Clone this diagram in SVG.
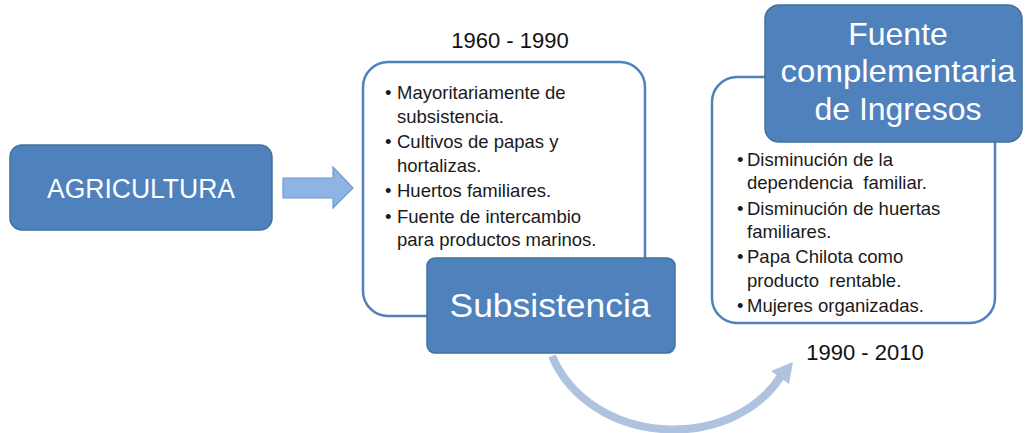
<svg xmlns="http://www.w3.org/2000/svg" width="1026" height="433" viewBox="0 0 1026 433">
<style>
.box{fill:#4F81BD;stroke:#41719C;stroke-width:1.5}
.frame{fill:#FFFFFF;stroke:#4F81BD;stroke-width:2.5}
.hdr{font-family:"Liberation Sans",Arial,sans-serif;fill:#FFFFFF;text-anchor:middle}
.yr{font-family:"Liberation Sans",Arial,sans-serif;font-size:22px;fill:#111111;text-anchor:middle}
.bl{font-family:"Liberation Sans",Arial,sans-serif;font-size:18.5px;fill:#1A1A1A;white-space:pre}
</style>
<rect width="1026" height="433" fill="#FFFFFF"/>
<g id="connectors">
<polygon points="283,178 333,178 333,167 353,188 333,208 333,198 283,198" fill="#8EB4E3" stroke="#6F9AD0" stroke-width="1.2"/>
<path d="M 552 356 C 590 445, 730 455, 781 376" fill="none" stroke="#AFC2DE" stroke-width="8"/>
<polygon points="793,362 771,371 789,384" fill="#AFC2DE"/>
</g>
<g id="agricultura">
<rect class="box" x="10" y="145" width="262" height="85" rx="12"/>
<text class="hdr" x="141" y="198" font-size="27" textLength="188" lengthAdjust="spacingAndGlyphs">AGRICULTURA</text>
</g>
<g id="periodo1">
<text class="yr" x="510" y="48">1960 - 1990</text>
<rect class="frame" x="363" y="62" width="282" height="254" rx="25"/>
<g class="bl">
<text x="385" y="99">•</text><text x="397" y="99">Mayoritariamente de</text>
<text x="397" y="122.5">subsistencia.</text>
<text x="385" y="148">•</text><text x="397" y="148">Cultivos de papas y</text>
<text x="397" y="171.5">hortalizas.</text>
<text x="385" y="197">•</text><text x="397" y="197">Huertos familiares.</text>
<text x="385" y="222.5">•</text><text x="397" y="222.5">Fuente de intercambio</text>
<text x="397" y="246">para productos marinos.</text>
</g>
</g>
<g id="subsistencia">
<rect class="box" x="427" y="258" width="248" height="95" rx="8"/>
<text class="hdr" x="550" y="317" font-size="34" textLength="201" lengthAdjust="spacingAndGlyphs">Subsistencia</text>
</g>
<g id="periodo2">
<rect class="frame" x="712" y="77" width="283" height="246" rx="25"/>
<g class="bl">
<text x="737" y="166">•</text><text x="747" y="166">Disminución de la</text>
<text x="747" y="189" xml:space="preserve">dependencia  familiar.</text>
<text x="737" y="215">•</text><text x="747" y="215">Disminución de huertas</text>
<text x="747" y="238">familiares.</text>
<text x="737" y="263">•</text><text x="747" y="263">Papa Chilota como</text>
<text x="747" y="287" xml:space="preserve">producto  rentable.</text>
<text x="737" y="312">•</text><text x="747" y="312">Mujeres organizadas.</text>
</g>
<text class="yr" x="865" y="360">1990 - 2010</text>
</g>
<g id="fuente">
<rect class="box" x="765" y="5" width="257" height="137" rx="14"/>
<text class="hdr" x="898" y="45" font-size="32">Fuente</text>
<text class="hdr" x="898" y="82" font-size="32" textLength="235" lengthAdjust="spacingAndGlyphs">complementaria</text>
<text class="hdr" x="898" y="120" font-size="32">de Ingresos</text>
</g>
</svg>
